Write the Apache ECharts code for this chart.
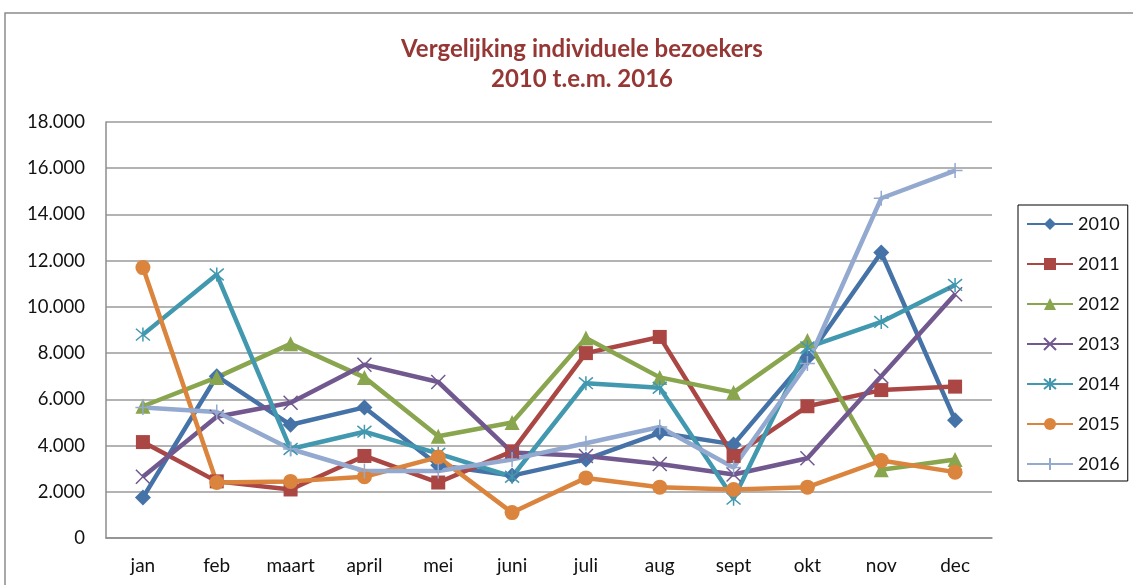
<!DOCTYPE html>
<html>
<head>
<meta charset="utf-8">
<script src="https://cdn.jsdelivr.net/npm/echarts@6/dist/echarts.min.js"></script>
<style>
  html, body { margin: 0; padding: 0; background: #fff; }
  #main { width: 1133px; height: 585px; }
</style>
</head>
<body>
<div id="main"></div>
<script>
// maanden
var months = ['jan', 'feb', 'maart', 'april', 'mei', 'juni', 'juli', 'aug', 'sept', 'okt', 'nov', 'dec'];

var y2010 = [1750, 7000, 4900, 5650, 3150, 2700, 3400, 4550, 4050, 7800, 12350, 5100];
var y2011 = [4150, 2450, 2100, 3550, 2400, 3750, 8000, 8700, 3550, 5700, 6400, 6550];
var y2012 = [5700, 6950, 8400, 6950, 4400, 5000, 8650, 6950, 6300, 8550, 2950, 3400];
var y2013 = [2650, 5250, 5850, 7500, 6750, 3700, 3550, 3200, 2750, 3450, 7000, 10550];
var y2014 = [8800, 11400, 3850, 4600, 3650, 2650, 6700, 6500, 1700, 8250, 9350, 10950];
var y2015 = [11700, 2400, 2450, 2650, 3500, 1100, 2600, 2200, 2100, 2200, 3350, 2850];
var y2016 = [5650, 5450, 3850, 2900, 2900, 3400, 4100, 4800, 3050, 7550, 14700, 15900];

var seriesDefs = [
  { name: '2010', data: y2010, color: '#4572A7', symbol: 'diamond', size: 16 },
  { name: '2011', data: y2011, color: '#AA4643', symbol: 'rect', size: 14 },
  { name: '2012', data: y2012, color: '#89A54E', symbol: 'triangle', size: 15 },
  { name: '2013', data: y2013, color: '#71588F', symbol: 'path://M0,0L10,10M10,0L0,10', size: 14, stroke: true },
  { name: '2014', data: y2014, color: '#4198AF', symbol: 'path://M0,0L10,10M10,0L0,10M5,-1L5,11', size: 14, stroke: true },
  { name: '2015', data: y2015, color: '#DB843D', symbol: 'circle', size: 15 },
  { name: '2016', data: y2016, color: '#93A9CF', symbol: 'path://M5,0L5,10M0,5L10,5', size: 15, stroke: true }
];

function fmt(v) {
  return String(v).replace(/\B(?=(\d{3})+(?!\d))/g, '.');
}

var myChart = echarts.init(document.getElementById('main'));

var options = {
  animation: false,
  textStyle: { fontFamily: 'Lato' },
  title: {
    text: 'Vergelijking individuele bezoekers\n2010 t.e.m. 2016',
    left: 577,
    top: 29,
    textAlign: 'center',
    textStyle: {
      color: '#953735',
      fontSize: 24,
      fontWeight: 'bold',
      fontFamily: 'Lato',
      lineHeight: 30
    }
  },
  graphic: [{
    type: 'rect',
    shape: { x: 5, y: 13, width: 1140, height: 600 },
    style: { fill: 'none', stroke: '#8c8c8c', lineWidth: 1.5 },
    silent: true
  }],
  legend: {
    orient: 'vertical',
    left: 1018,
    top: 205,
    padding: [10, 8, 8, 8],
    itemWidth: 46,
    itemHeight: 15,
    itemGap: 22,
    borderColor: '#000',
    borderWidth: 1,
    textStyle: { fontSize: 18, color: '#111', fontFamily: 'Lato' },
    data: seriesDefs.map(function (s) { return s.name; })
  },
  grid: {
    left: 106,
    right: 141,
    top: 122,
    bottom: 47
  },
  xAxis: {
    type: 'category',
    data: months,
    boundaryGap: true,
    axisLine: { lineStyle: { color: '#8c8c8c', width: 1.5 } },
    axisTick: { show: false },
    axisLabel: { color: '#111', fontSize: 19, margin: 18 }
  },
  yAxis: {
    type: 'value',
    min: 0,
    max: 18000,
    interval: 2000,
    axisLine: { show: true, lineStyle: { color: '#8c8c8c', width: 1.5 } },
    axisTick: { show: false },
    splitLine: { lineStyle: { color: '#9a9a9a', width: 1.5 } },
    axisLabel: {
      color: '#111',
      fontSize: 18.5,
      margin: 21,
      formatter: function (v) { return fmt(v); }
    }
  },
  series: seriesDefs.map(function (s) {
    return {
      name: s.name,
      type: 'line',
      data: s.data,
      symbol: s.symbol,
      symbolSize: s.size,
      showAllSymbol: true,
      lineStyle: { color: s.color, width: 4.5 },
      itemStyle: s.stroke
        ? { color: s.color, borderColor: s.color, borderWidth: 1.5 }
        : { color: s.color, borderWidth: 0 }
    };
  })
};

myChart.setOption(options);
</script>
</body>
</html>
